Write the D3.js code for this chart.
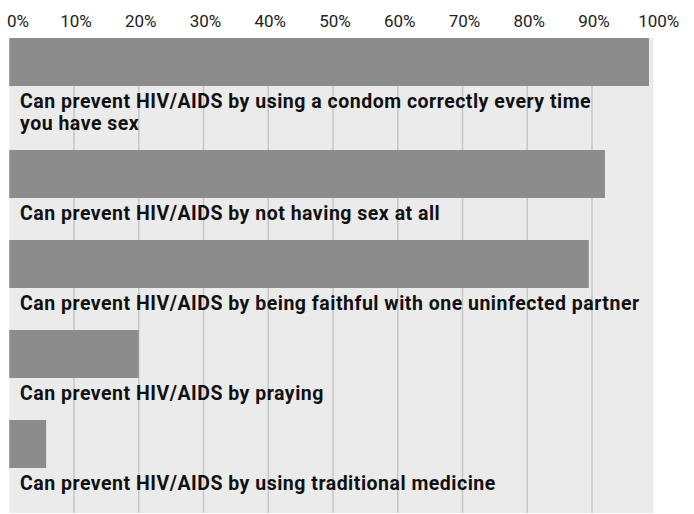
<!DOCTYPE html>
<html>
<head>
<meta charset="utf-8">
<script src="https://cdn.jsdelivr.net/npm/d3@7"></script>
<style>
  html, body { margin: 0; padding: 0; background: #fff; }
  svg { display: block; }
  .tick-label { font-family: Roboto, "DejaVu Sans", sans-serif; font-size: 17px; fill: #222; }
  .cat-label { font-family: Roboto, "DejaVu Sans", sans-serif; font-size: 19.5px; font-weight: 700; letter-spacing: 0.5px; fill: #111; }
</style>
</head>
<body>
<script>
// Survey statements, one line of text per array entry
const categories = [
  ["Can prevent HIV/AIDS by using a condom correctly every time", "you have sex"],
  ["Can prevent HIV/AIDS by not having sex at all"],
  ["Can prevent HIV/AIDS by being faithful with one uninfected partner"],
  ["Can prevent HIV/AIDS by praying"],
  ["Can prevent HIV/AIDS by using traditional medicine"]
];
// Share of respondents agreeing, in percent
const values = [98.8, 92.0, 89.5, 20.0, 5.7];
const tickValues = [0, 10, 20, 30, 40, 50, 60, 70, 80, 90, 100];
const tickLabels = ["0%", "10%", "20%", "30%", "40%", "50%", "60%", "70%", "80%", "90%", "100%"];

const W = 694, H = 514;
const panelTop = 38, panelBottom = 513, panelRight = 653.5;
const barH = 48, lineH = 22, gapBelow = 20, firstBaseline = 22;

const x = d3.scaleLinear().domain([0, 100]).range([9.25, 656.75]);

const svg = d3.select("body").append("svg").attr("width", W).attr("height", H);

// background panel
svg.append("rect")
  .attr("x", x(0)).attr("y", panelTop)
  .attr("width", panelRight - x(0)).attr("height", panelBottom - panelTop)
  .attr("fill", "#ebebeb");

// vertical gridlines
svg.append("g").selectAll("line")
  .data(tickValues.filter(d => x(d) > x(0) + 1 && x(d) < panelRight))
  .join("line")
  .attr("x1", d => x(d)).attr("x2", d => x(d))
  .attr("y1", panelTop).attr("y2", panelBottom)
  .attr("stroke", "#c6c6c6").attr("stroke-width", 1.5);

// top axis labels
svg.append("g").selectAll("text")
  .data(tickValues)
  .join("text")
  .attr("class", "tick-label")
  .attr("x", (d, i) => i === 0 ? 7 : x(d) + 2)
  .attr("y", 27)
  .attr("text-anchor", (d, i) => i === 0 ? "start" : "middle")
  .text((d, i) => tickLabels[i]);

// row layout: bar, then label lines, then gap to next bar
let yCursor = panelTop;
const rows = categories.map((lines, i) => {
  const top = yCursor;
  yCursor = top + barH + firstBaseline + (lines.length - 1) * lineH + gapBelow;
  return { lines, value: values[i], top };
});

const row = svg.append("g").selectAll("g").data(rows).join("g");

row.append("rect")
  .attr("x", x(0))
  .attr("y", d => d.top)
  .attr("width", d => x(d.value) - x(0))
  .attr("height", barH)
  .attr("fill", "#8c8c8c");

row.append("text")
  .attr("class", "cat-label")
  .selectAll("tspan")
  .data(d => d.lines.map((t, j) => ({ t, y: d.top + barH + firstBaseline + j * lineH })))
  .join("tspan")
  .attr("x", 20)
  .attr("y", d => d.y)
  .text(d => d.t);
</script>
</body>
</html>
